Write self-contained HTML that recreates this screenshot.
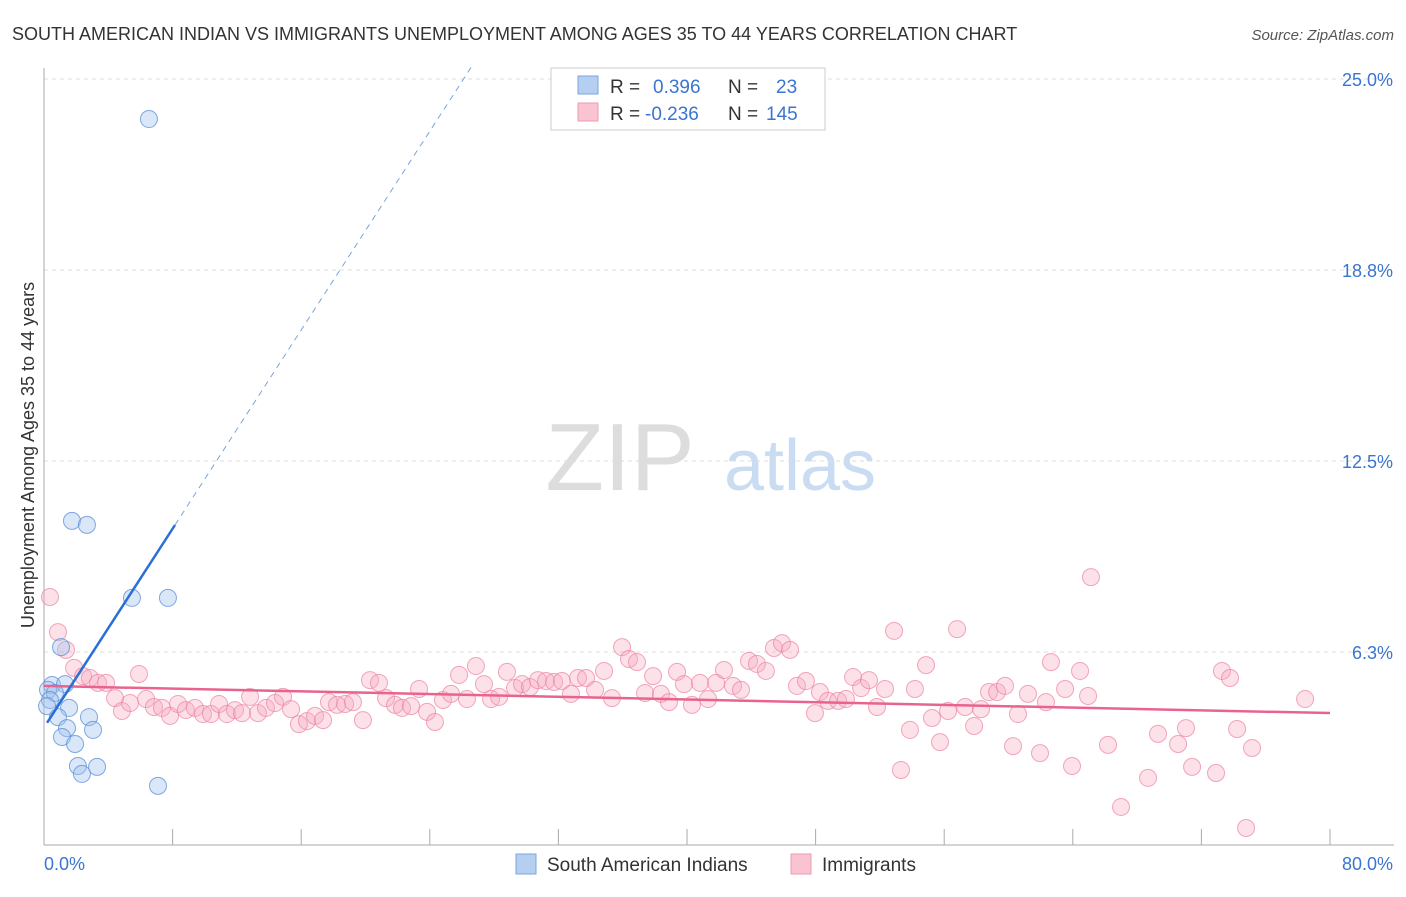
<!DOCTYPE html>
<html><head><meta charset="utf-8"><style>
body{margin:0;background:#fff;font-family:"Liberation Sans",sans-serif;}
svg text{font-family:"Liberation Sans",sans-serif;}
</style></head><body>
<svg id="chart" width="1406" height="892">
<text x="12" y="40" font-size="18" fill="#333">SOUTH AMERICAN INDIAN VS IMMIGRANTS UNEMPLOYMENT AMONG AGES 35 TO 44 YEARS CORRELATION CHART</text>
<text x="1394" y="40" font-size="15" fill="#555" font-style="italic" text-anchor="end">Source: ZipAtlas.com</text>
<text x="620" y="490" font-size="96" fill="#ddd" font-family="Liberation Serif" text-anchor="middle">ZIP</text>
<text x="800" y="490" font-size="72" fill="#c9dcf2" text-anchor="middle">atlas</text>
<text transform="translate(34,455) rotate(-90)" font-size="18" fill="#333" text-anchor="middle">Unemployment Among Ages 35 to 44 years</text>
<g id="grid"></g><g id="marks"></g>
<g>
<rect x="551" y="68" width="274" height="62" fill="#fff" stroke="#ccc"/>
<rect x="578" y="76" width="20" height="18" fill="#b4cff0" stroke="#7aa5db"/>
<rect x="578" y="103" width="20" height="18" fill="#f9c3d2" stroke="#ee9ab2"/>
<text x="610" y="93" font-size="19" fill="#333">R =</text><text x="653" y="93" font-size="19" fill="#3a75d0">0.396</text>
<text x="728" y="93" font-size="19" fill="#333">N =</text><text x="776" y="93" font-size="19" fill="#3a75d0">23</text>
<text x="610" y="120" font-size="19" fill="#333">R =</text><text x="645" y="120" font-size="19" fill="#3a75d0">-0.236</text>
<text x="728" y="120" font-size="19" fill="#333">N =</text><text x="766" y="120" font-size="19" fill="#3a75d0">145</text>
</g>
<g>
<rect x="516" y="854" width="20" height="20" fill="#b4cff0" stroke="#7aa5db"/>
<text x="547" y="871" font-size="19" fill="#333">South American Indians</text>
<rect x="791" y="854" width="20" height="20" fill="#f9c3d2" stroke="#ee9ab2"/>
<text x="822" y="871" font-size="19" fill="#333">Immigrants</text>
</g>
</svg>
<script>
const yTicks=[6.25,12.5,18.75,25];
const yTickLabels=["6.3%","12.5%","18.8%","25.0%"];
const xTickCount=10;
const blueX=[6.53,1.74,2.67,5.47,7.71,1.06,0.50,1.31,0.25,0.68,0.37,0.19,1.56,0.87,2.80,1.43,1.12,3.05,1.93,2.11,3.30,2.36,7.09];
const blueY=[23.69,10.54,10.41,8.02,8.02,6.41,5.17,5.20,5.01,4.91,4.68,4.48,4.42,4.12,4.12,3.76,3.47,3.70,3.24,2.52,2.49,2.26,1.87];
const pinkX=[0.37,0.87,1.37,1.87,2.43,2.86,3.36,3.86,4.42,4.85,5.35,5.91,6.35,6.84,7.34,7.84,8.34,8.83,9.39,9.89,10.39,10.89,11.38,11.88,12.32,12.82,13.31,13.81,14.37,14.87,15.37,15.86,16.36,16.86,17.36,17.73,18.23,18.73,19.22,19.84,20.28,20.84,21.28,21.84,22.27,22.83,23.33,23.83,24.32,24.82,25.32,25.82,26.31,26.87,27.37,27.81,28.31,28.80,29.30,29.74,30.23,30.73,31.23,31.73,32.22,32.78,33.22,33.72,34.28,34.84,35.33,35.96,36.39,36.89,37.39,37.89,38.38,38.88,39.38,39.81,40.31,40.81,41.31,41.81,42.30,42.86,43.36,43.86,44.35,44.91,45.41,45.91,46.41,46.84,47.40,47.96,48.27,48.77,49.40,49.89,50.33,50.83,51.32,51.82,52.32,52.88,53.31,53.87,54.18,54.87,55.24,55.74,56.24,56.80,57.30,57.86,58.29,58.79,59.29,59.78,60.28,60.59,61.21,61.96,62.33,62.64,63.52,63.95,64.45,64.95,65.13,66.19,67.00,68.68,69.30,70.55,71.04,71.42,72.91,73.28,73.78,74.22,74.78,75.15,78.45];
const pinkY=[8.05,6.90,6.32,5.73,5.46,5.40,5.24,5.24,4.74,4.32,4.58,5.53,4.71,4.45,4.42,4.16,4.55,4.35,4.42,4.22,4.22,4.55,4.22,4.35,4.25,4.78,4.25,4.42,4.58,4.78,4.38,3.89,3.99,4.16,4.02,4.61,4.52,4.55,4.61,4.02,5.33,5.24,4.74,4.52,4.42,4.48,5.04,4.29,3.96,4.68,4.88,5.50,4.71,5.79,5.20,4.71,4.78,5.60,5.07,5.20,5.10,5.33,5.30,5.27,5.30,4.88,5.40,5.40,5.01,5.63,4.74,6.41,6.02,5.92,4.91,5.46,4.88,4.61,5.60,5.20,4.52,5.24,4.71,5.24,5.66,5.14,5.01,5.96,5.86,5.63,6.38,6.54,6.32,5.14,5.30,4.25,4.94,4.65,4.65,4.71,5.43,5.07,5.33,4.45,5.04,6.94,2.39,3.70,5.04,5.82,4.09,3.30,4.32,7.00,4.45,3.83,4.38,4.94,4.94,5.14,3.17,4.22,4.88,2.94,4.61,5.92,5.04,2.52,5.63,4.81,8.70,3.21,1.18,2.13,3.57,3.24,3.76,2.49,2.29,5.63,5.40,3.73,0.49,3.11,4.71];
const blueTrend=[3.78,0.813]; // intercept, slope
const pinkTrend=[5.14,-0.0111];
const X0=44,X1=1330,Y0=843,Y1=79;
const xs=v=>X0+(v/80)*(X1-X0);
const ys=v=>Y0-(v/25)*(Y0-Y1);
const NS="http://www.w3.org/2000/svg";
function mk(tag,attrs,parent){const e=document.createElementNS(NS,tag);for(const k in attrs)e.setAttribute(k,attrs[k]);parent.appendChild(e);return e;}
const grid=document.getElementById('grid'),marks=document.getElementById('marks');
yTicks.forEach((t,i)=>{
 const g=mk('line',{x1:X0,x2:1394,y1:ys(t),y2:ys(t),stroke:'#ddd','stroke-dasharray':'4,4'},grid);
 
 
 const l=mk('text',{x:1393,y:ys(t)+7,'font-size':18,fill:'#3a75d0','text-anchor':'end'},grid);
 l.textContent=yTickLabels[i];
 
 
});
const ax=mk('line',{x1:X0,x2:X0,y1:68,y2:Y0+2,stroke:'#aaa'},grid);


const bx=mk('line',{x1:X0,x2:1394,y1:Y0+2,y2:Y0+2,stroke:'#aaa'},grid);


for(let i=1;i<=xTickCount;i++){
 const t=mk('line',{x1:xs(i*8),x2:xs(i*8),y1:Y0-14,y2:Y0+2,stroke:'#aaa'},grid);
 
 
}
const xl0=mk('text',{x:44,y:870,'font-size':18,fill:'#3a75d0'},grid);xl0.textContent='0.0%';


const xl1=mk('text',{x:1393,y:870,'font-size':18,fill:'#3a75d0','text-anchor':'end'},grid);xl1.textContent='80.0%';


pinkX.forEach((x,i)=>{
 const c=mk('circle',{cx:xs(x),cy:ys(pinkY[i]),r:8.5,fill:'rgba(246,168,192,0.35)',stroke:'rgba(236,130,162,0.7)','stroke-width':1},marks);
 
 
});
blueX.forEach((x,i)=>{
 const c=mk('circle',{cx:xs(x),cy:ys(blueY[i]),r:8.5,fill:'rgba(160,195,238,0.4)',stroke:'rgba(90,140,215,0.75)','stroke-width':1},marks);
 
 
});
const pl=mk('line',{x1:xs(0),y1:ys(pinkTrend[0]),x2:xs(80),y2:ys(pinkTrend[0]+pinkTrend[1]*80),stroke:'#e8648f','stroke-width':2.5},marks);


const bs=0.19,be=8.15,bd=(25.5-blueTrend[0])/blueTrend[1];
const bl=mk('line',{x1:xs(bs),y1:ys(blueTrend[0]+blueTrend[1]*bs),x2:xs(be),y2:ys(blueTrend[0]+blueTrend[1]*be),stroke:'#2a6fd6','stroke-width':2.5},marks);


const bdl=mk('line',{x1:xs(be),y1:ys(blueTrend[0]+blueTrend[1]*be),x2:xs(bd),y2:ys(25.5),stroke:'#7aa5db','stroke-width':1,'stroke-dasharray':'6,5'},marks);


</script>
</body></html>
